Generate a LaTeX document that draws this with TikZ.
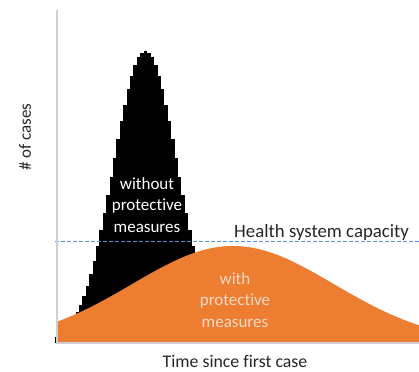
\documentclass[tikz,border=0pt]{standalone}
\usepackage{fontspec}
\setmainfont{Carlito}[Ligatures={NoCommon,NoContextual}]
\definecolor{myorange}{HTML}{ED7D31}
\definecolor{capblue}{HTML}{5B8FD9}
\definecolor{axisgray}{HTML}{D0D0D0}
\definecolor{paletext}{HTML}{FADBC6}
\definecolor{labeltext}{HTML}{262626}
\begin{document}
\begin{tikzpicture}[x=1pt,y=-1pt,
  lbl/.style={inner sep=0pt, text=labeltext, font=\fontsize{17.8}{21}\selectfont},
  inlbl/.style={inner sep=0pt, align=center, font=\fontsize{17}{21.5}\selectfont}]
\useasboundingbox (0,0) rectangle (419,371);
% black stepped curve (without measures)
\foreach \i in {-26,...,26}{
  \fill[black] ({145.5+\i*3.4-1.85},343) rectangle ({145.5+\i*3.4+1.85},{343-292*exp(-0.5*(\i*3.4/32)^2)});
}
% orange curve (with measures)
\fill[myorange] (57.5,343) -- plot[domain=57.5:419, samples=180] (\x,{343-97*exp(-0.5*((\x-233)/101)^2)}) -- (419,343) -- cycle;
% capacity line
\coordinate (capL) at (55,241);
\coordinate (capR) at (419,241);
\draw[capblue, line width=1pt, dash pattern=on 3.5pt off 2.5pt] (capL) -- (capR);
% axes
\coordinate (origin) at (57,343);
\coordinate (ytop) at (57,10);
\coordinate (xend) at (419,343);
\draw[axisgray, line width=1.5pt] (ytop) -- (origin) -- (xend);
% labels
\node[lbl, anchor=base west, font=\fontsize{18.8}{22}\selectfont] (cap) at (234,237) {Health system capacity};
\node[lbl, anchor=base] (xlab) at (235,367) {Time since first case};
\node[lbl, rotate=90, font=\fontsize{17}{21}\selectfont] (ylab) at (25,137) {\# of cases};
\node[inlbl, text=white] (without) at (147,205) {without\\protective\\measures};
\node[inlbl, text=paletext] (with) at (235,300) {with\\protective\\measures};
\end{tikzpicture}
\end{document}
